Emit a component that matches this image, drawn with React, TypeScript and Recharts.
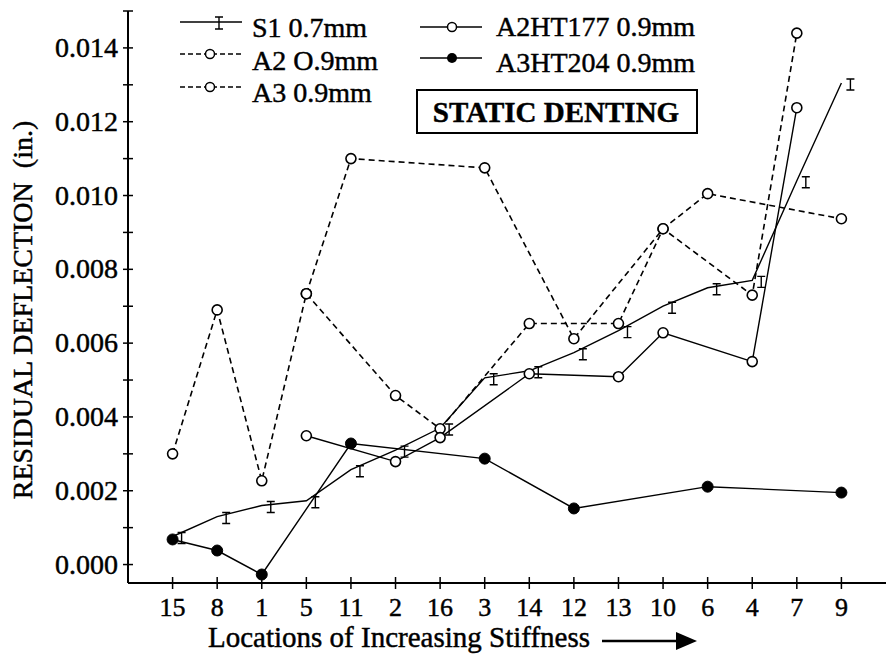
import React from 'react';
import { LineChart, Line, XAxis, YAxis, Legend } from 'recharts';

// Locations, in order of increasing stiffness
const categories = ['15', '8', '1', '5', '11', '2', '16', '3', '14', '12', '13', '10', '6', '4', '7', '9'];

// Residual deflection (in.) per location; null = not tested
const s1Values = [0.00076, 0.0013, 0.0016, 0.00173, 0.00257, 0.0031, 0.0037, 0.00506, 0.00525, 0.00574, 0.00634, 0.007, 0.0075, 0.0077, 0.0104, 0.01305];
const a2Values = [0.003, 0.0069, 0.00227, 0.00734, null, 0.00458, 0.00368, null, 0.00653, null, 0.00653, 0.0091, null, 0.0073, 0.0144, null];
const a3Values = [null, null, null, 0.00734, 0.011, null, null, 0.01075, null, 0.00612, null, 0.0091, 0.01005, null, null, 0.00937];
const ht177Values = [null, null, null, 0.00349, null, 0.00279, 0.00344, null, 0.00517, null, 0.00509, 0.00628, null, 0.0055, 0.01238, null];
const ht204Values = [0.00068, 0.00038, -0.00027, null, 0.00328, null, null, 0.00287, null, 0.00152, null, null, 0.00211, null, null, 0.00195];

const seriesNames = ['S1 0.7mm', 'A2 O.9mm', 'A3 0.9mm', 'A2HT177 0.9mm', 'A3HT204 0.9mm'];

const yTicks = [0, 0.001, 0.002, 0.003, 0.004, 0.005, 0.006, 0.007, 0.008, 0.009, 0.01, 0.011, 0.012, 0.013, 0.014, 0.015];
const yDomain = [-0.0005, 0.015];
const xDomain = [0, 17];
const xTicks = categories.map((_, i) => i + 1);

const rows = categories.map((c, i) => ({
  pos: i + 1,
  label: c,
  s1: s1Values[i],
  a2: a2Values[i],
  a3: a3Values[i],
  ht177: ht177Values[i],
  ht204: ht204Values[i],
}));

const FONT = 'Liberation Serif, Times New Roman, serif';
const TXT = { fontFamily: FONT, fill: '#000', stroke: '#000', strokeWidth: 0.45 } as const;

const IBeamDot = (props: any) => {
  const { cx, cy, index } = props;
  if (cx == null || cy == null) return <g key={`ib-${index}`} />;
  const x = cx + 9;
  return (
    <path
      key={`ib-${index}`}
      d={`M${x - 4},${cy - 4}H${x + 4}M${x},${cy - 4}V${cy + 7}M${x - 4},${cy + 7}H${x + 4}`}
      stroke="#000"
      strokeWidth={1.4}
      fill="none"
    />
  );
};

const OpenDot = (props: any) => {
  const { cx, cy, index } = props;
  if (cx == null || cy == null) return <g key={`od-${index}`} />;
  return <circle key={`od-${index}`} cx={cx} cy={cy} r={5} fill="#fff" stroke="#000" strokeWidth={1.6} />;
};

const FilledDot = (props: any) => {
  const { cx, cy, index } = props;
  if (cx == null || cy == null) return <g key={`fd-${index}`} />;
  return <circle key={`fd-${index}`} cx={cx} cy={cy} r={5.5} fill="#000" stroke="#000" strokeWidth={1} />;
};

const XTick = (props: any) => {
  const { x, y, payload } = props;
  return (
    <g>
      <line x1={x} x2={x} y1={y - 6} y2={y + 6} stroke="#000" strokeWidth={1.5} />
      <text x={x} y={y + 33} textAnchor="middle" fontSize={26} {...TXT}>
        {categories[payload.value - 1]}
      </text>
    </g>
  );
};

const YTick = (props: any) => {
  const { x, y, payload } = props;
  const v = payload.value;
  const major = Math.round(v * 1000) % 2 === 0 && v < 0.0145;
  return (
    <g>
      <line x1={x - 5} x2={x + 5} y1={y} y2={y} stroke="#000" strokeWidth={1.5} />
      {major && (
        <text x={x - 10} y={y + 9} textAnchor="end" fontSize={28} {...TXT}>
          {v.toFixed(3)}
        </text>
      )}
    </g>
  );
};

const XTitle = (props: any) => {
  const vb = props.viewBox || { x: 128, y: 583, width: 758, height: 73 };
  const tx = vb.x + 80;
  const ty = vb.y + 64;
  const ax = vb.x + 474;
  const ay = vb.y + 58;
  return (
    <g>
      <text x={tx} y={ty} fontSize={29} {...TXT}>
        Locations of Increasing Stiffness
      </text>
      <line x1={ax} x2={ax + 78} y1={ay} y2={ay} stroke="#000" strokeWidth={2.5} />
      <path d={`M${ax + 74},${ay - 9}L${ax + 95},${ay}L${ax + 74},${ay + 9}Z`} fill="#000" />
    </g>
  );
};

const YTitle = (props: any) => {
  const vb = props.viewBox || { x: 0, y: 11, width: 128, height: 572 };
  const x = vb.x + 32;
  const y = vb.y + vb.height / 2 + 13;
  return (
    <text x={x} y={y} textAnchor="middle" fontSize={28} {...TXT} transform={`rotate(-90, ${x}, ${y})`}>
      {'RESIDUAL DEFLECTION\u00A0\u00A0(in.)'}
    </text>
  );
};

const legendLayout: Record<string, { lx: number; ly: number; tx: number; ty: number; dash?: string; marker: string }> = {
  s1: { lx: 180, ly: 22, tx: 252, ty: 37, marker: 'ibeam' },
  a2: { lx: 180, ly: 54, tx: 252, ty: 70, dash: '5 3', marker: 'open' },
  a3: { lx: 180, ly: 87, tx: 252, ty: 102, dash: '5 3', marker: 'open' },
  ht177: { lx: 420, ly: 27, tx: 496, ty: 36, marker: 'open' },
  ht204: { lx: 420, ly: 58, tx: 496, ty: 72, marker: 'filled' },
};

const LegendContent = (props: any) => {
  const payload = props.payload || [];
  return (
    <svg width={886} height={140} style={{ display: 'block' }}>
      {payload.map((entry: any) => {
        const key = entry.dataKey as string;
        const L = legendLayout[key];
        if (!L) return null;
        const mx = L.marker === 'ibeam' ? L.lx + 39 : L.marker === 'open' && L.dash ? L.lx + 30 : L.lx + 32;
        return (
          <g key={key}>
            <line x1={L.lx} x2={L.lx + 62} y1={L.ly} y2={L.ly} stroke="#000" strokeWidth={1.4} strokeDasharray={L.dash} />
            {L.marker === 'ibeam' && (
              <path
                d={`M${mx - 4},${L.ly - 5}H${mx + 4}M${mx},${L.ly - 5}V${L.ly + 7}M${mx - 4},${L.ly + 7}H${mx + 4}`}
                stroke="#000"
                strokeWidth={1.4}
                fill="none"
              />
            )}
            {L.marker === 'open' && <circle cx={mx} cy={L.ly} r={4.5} fill="#fff" stroke="#000" strokeWidth={1.5} />}
            {L.marker === 'filled' && <circle cx={mx} cy={L.ly} r={5} fill="#000" />}
            <text x={L.tx} y={L.ty} fontSize={28} {...TXT}>
              {entry.value}
            </text>
          </g>
        );
      })}
      <rect x={417} y={90} width={280} height={43} fill="#fff" stroke="#000" strokeWidth={2} />
      <text x={556} y={122} textAnchor="middle" fontSize={29} fontWeight="bold" {...TXT}>
        STATIC DENTING
      </text>
    </svg>
  );
};

export default function App() {
  return (
    <div style={{ position: 'absolute', left: 0, top: 0, width: 886, height: 656, background: '#fff' }}>
      <LineChart width={886} height={656} data={rows} margin={{ top: 11, right: 0, bottom: 0, left: 0 }}>
        <XAxis
          type="number"
          dataKey="pos"
          domain={xDomain}
          ticks={xTicks}
          interval={0}
          allowDataOverflow
          height={73}
          axisLine={{ stroke: '#000', strokeWidth: 2 }}
          tickLine={false}
          tickSize={0}
          tickMargin={0}
          tick={<XTick />}
          label={XTitle}
        />
        <YAxis
          type="number"
          domain={yDomain}
          ticks={yTicks}
          interval={0}
          allowDataOverflow
          width={128}
          axisLine={{ stroke: '#000', strokeWidth: 2 }}
          tickLine={false}
          tickSize={0}
          tickMargin={0}
          tick={<YTick />}
          label={YTitle}
        />
        <Legend
          layout="horizontal"
          verticalAlign="middle"
          align="center"
          content={<LegendContent />}
          wrapperStyle={{ position: 'absolute', left: 0, top: 0, width: 886, height: 140 }}
        />
        <Line dataKey="a2" name={seriesNames[1]} stroke="#000" strokeWidth={1.6} strokeDasharray="6 4" connectNulls dot={OpenDot} activeDot={false} isAnimationActive={false} />
        <Line dataKey="a3" name={seriesNames[2]} stroke="#000" strokeWidth={1.6} strokeDasharray="6 4" connectNulls dot={OpenDot} activeDot={false} isAnimationActive={false} />
        <Line dataKey="ht177" name={seriesNames[3]} stroke="#000" strokeWidth={1.4} connectNulls dot={OpenDot} activeDot={false} isAnimationActive={false} />
        <Line dataKey="ht204" name={seriesNames[4]} stroke="#000" strokeWidth={1.4} connectNulls dot={FilledDot} activeDot={false} isAnimationActive={false} />
        <Line dataKey="s1" name={seriesNames[0]} stroke="#000" strokeWidth={1.4} connectNulls dot={IBeamDot} activeDot={false} isAnimationActive={false} />
      </LineChart>
    </div>
  );
}
